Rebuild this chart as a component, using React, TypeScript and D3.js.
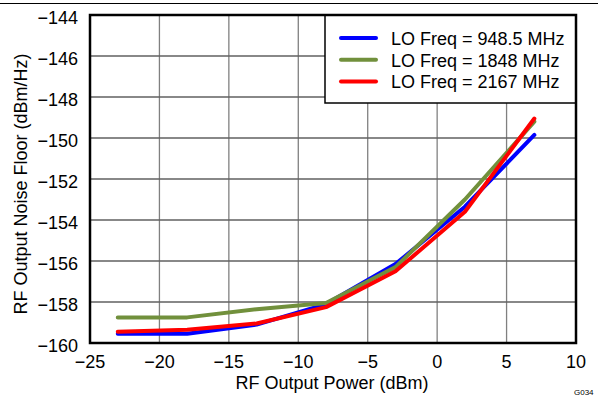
import React from "react";
import * as d3 from "d3";

const xPower = [-23, -18, -13, -8, -3, 2, 7];
const lo948 = [-159.55, -159.55, -159.1, -158.1, -156.15, -153.35, -149.85];
const lo1848 = [-158.75, -158.75, -158.35, -158.05, -156.3, -153.0, -149.2];
const lo2167 = [-159.45, -159.35, -159.05, -158.25, -156.5, -153.6, -149.05];
const seriesNames = ["LO Freq = 948.5 MHz", "LO Freq = 1848 MHz", "LO Freq = 2167 MHz"];
const seriesColors = ["#0000ff", "#71903c", "#ff0000"];
const xTicks = [-25, -20, -15, -10, -5, 0, 5, 10];
const yTicks = [-160, -158, -156, -154, -152, -150, -148, -146, -144];

export default function App() {
  const W = 598, H = 396;
  const L = 90, R = 576, T = 15, B = 343;
  const x = d3.scaleLinear().domain([-25, 10]).range([L, R]);
  const y = d3.scaleLinear().domain([-160, -144]).range([B, T]);
  const line = d3.line<number>().x((_, i) => x(xPower[i])).y((d) => y(d));
  const all = [lo948, lo1848, lo2167];
  const font = "Arial, 'Liberation Sans', sans-serif";
  const fs = 18;
  return (
    <svg width={W} height={H} style={{ position: "absolute", left: 0, top: 0, background: "#fff" }} fontFamily={font}>
      <line x1={0} x2={W} y1={3.5} y2={3.5} stroke="#000" strokeWidth={1.2} />
      {xTicks.slice(1, -1).map((t) => (
        <line key={"gx" + t} x1={x(t)} x2={x(t)} y1={T} y2={B} stroke="#808080" strokeWidth={1.3} />
      ))}
      {yTicks.slice(1, -1).map((t) => (
        <line key={"gy" + t} x1={L} x2={R} y1={y(t)} y2={y(t)} stroke="#606060" strokeWidth={1.3} />
      ))}
      {all.map((s, i) => (
        <path key={i} d={line(s) || ""} fill="none" stroke={seriesColors[i]} strokeWidth={4} strokeLinejoin="round" strokeLinecap="round" />
      ))}
      <g>
        <rect x={325} y={T} width={R - 325} height={88} fill="#fff" stroke="#000" strokeWidth={1.5} />
        {seriesNames.map((n, i) => (
          <g key={n}>
            <line x1={341} x2={376} y1={38 + i * 21.7} y2={38 + i * 21.7} stroke={seriesColors[i]} strokeWidth={4} strokeLinecap="round" />
            <text x={391} y={45 + i * 21.7} fontSize={fs} fill="#000">{n}</text>
          </g>
        ))}
      </g>
      <rect x={L} y={T} width={R - L} height={B - T} fill="none" stroke="#000" strokeWidth={2.5} />
      {xTicks.map((t) => (
        <text key={"tx" + t} x={x(t)} y={368} textAnchor="middle" fontSize={fs} fill="#000">
          {t < 0 ? "\u2212" + Math.abs(t) : String(t)}
        </text>
      ))}
      {yTicks.map((t) => (
        <text key={"ty" + t} x={78} y={y(t) + 8.5} textAnchor="end" fontSize={fs} fill="#000">
          {"\u2212" + Math.abs(t)}
        </text>
      ))}
      <text x={332} y={389} textAnchor="middle" fontSize={fs} fill="#000">RF Output Power (dBm)</text>
      <text transform={`translate(27, ${184}) rotate(-90)`} textAnchor="middle" fontSize={fs} fill="#000">
        RF Output Noise Floor (dBm/Hz)
      </text>
      <text x={574} y={395} fontSize={8} fill="#000">G034</text>
    </svg>
  );
}
